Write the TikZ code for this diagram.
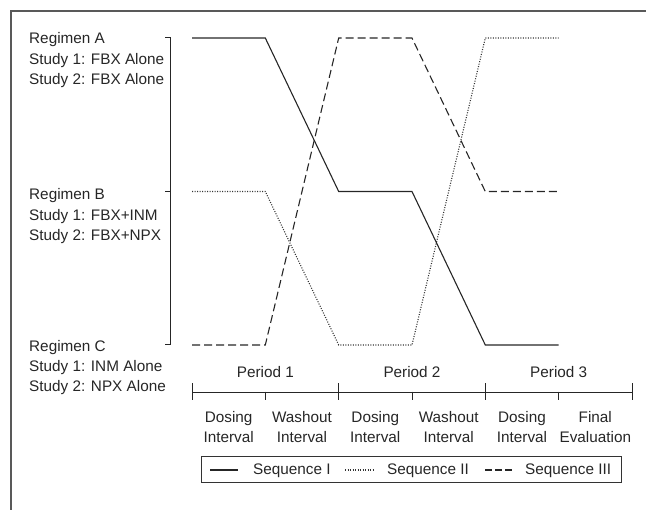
\documentclass[tikz,border=0pt]{standalone}
\usepackage{fontspec}
\setmainfont{Liberation Sans}
\begin{document}
\begin{tikzpicture}[x=1pt,y=-1pt,
  font=\fontsize{15.3}{18}\selectfont,
  txt/.style={inner sep=0pt,text=black!85,anchor=base west},
  ctxt/.style={inner sep=0pt,text=black!85,anchor=base},
  seqone/.style={line width=1.1pt,black!85},
  seqtwo/.style={line width=1.1pt,black!80,dash pattern=on 1pt off 1.5pt},
  seqthree/.style={line width=1.1pt,black!85,dash pattern=on 8pt off 4pt},
  axisline/.style={line width=1pt,black!85},
  frameline/.style={line width=1.6pt,black!65}]
\useasboundingbox (0,0) rectangle (646,510);
% frame (top and left edges)
\coordinate (F0) at (11,11);
\coordinate (F1) at (646,11);
\coordinate (F2) at (11,510);
\draw[frameline] (F1) -- (F0) -- (F2);
% regimen labels
\node[txt] (ra) at (29,44) {Regimen A};
\node[txt] (ra1) at (29,64.5) {Study 1: FBX Alone};
\node[txt] (ra2) at (29,85) {Study 2: FBX Alone};
\node[txt] (rb) at (29,200) {Regimen B};
\node[txt] (rb1) at (29,220.5) {Study 1: FBX+INM};
\node[txt] (rb2) at (29,241) {Study 2: FBX+NPX};
\node[txt] (rc) at (29,351.5) {Regimen C};
\node[txt] (rc1) at (29,371.5) {Study 1: INM Alone};
\node[txt] (rc2) at (29,391.5) {Study 2: NPX Alone};
% vertical bracket
\coordinate (VA) at (170,38);
\coordinate (VB) at (170,191.5);
\coordinate (VC) at (170,345);
\coordinate (TA) at (165,38);
\coordinate (TB) at (165,191.5);
\coordinate (TC) at (165,345);
\draw[axisline] (TA) -- (VA) -- (VC) -- (TC);
\draw[axisline] (TB) -- (VB);
% grid points for sequences
\foreach \i/\x in {0/192,1/265.3,2/338.7,3/412,4/485.3,5/558.7}{
  \coordinate (A\i) at (\x,38);
  \coordinate (B\i) at (\x,191.5);
  \coordinate (C\i) at (\x,345);
}
\draw[seqone] (A0) -- (A1) -- (B2) -- (B3) -- (C4) -- (C5);
\draw[seqtwo] (B0) -- (B1) -- (C2) -- (C3) -- (A4) -- (A5);
\draw[seqthree] (C0) -- (C1) -- (A2) -- (A3) -- (B4) -- (B5);
% time axis
\foreach \i/\x in {0/192,1/265.3,2/338.7,3/412,4/485.3,5/558.7,6/632}{
  \coordinate (X\i) at (\x,393);
  \coordinate (D\i) at (\x,400);
  \coordinate (U\i) at (\x,383.3);
  \coordinate (M\i) at (\x,391.7);
}
\draw[axisline] (X0) -- (X6);
\foreach \i in {0,2,4,6}{ \draw[axisline] (U\i) -- (D\i); }
\foreach \i in {1,3,5}{ \draw[axisline] (M\i) -- (D\i); }
\node[ctxt] (p1) at (265.3,378) {Period 1};
\node[ctxt] (p2) at (412,378) {Period 2};
\node[ctxt] (p3) at (558.7,378) {Period 3};
\node[ctxt] (i1a) at (228.7,423) {Dosing};
\node[ctxt] (i1b) at (228.7,443) {Interval};
\node[ctxt] (i2a) at (302,423) {Washout};
\node[ctxt] (i2b) at (302,443) {Interval};
\node[ctxt] (i3a) at (375.3,423) {Dosing};
\node[ctxt] (i3b) at (375.3,443) {Interval};
\node[ctxt] (i4a) at (448.7,423) {Washout};
\node[ctxt] (i4b) at (448.7,443) {Interval};
\node[ctxt] (i5a) at (522,423) {Dosing};
\node[ctxt] (i5b) at (522,443) {Interval};
\node[ctxt] (i6a) at (595.3,423) {Final};
\node[ctxt] (i6b) at (595.3,443) {Evaluation};
% legend
\coordinate (L0) at (201.7,457);
\coordinate (L1) at (621.7,483);
\draw[line width=1pt,black!80] (L0) rectangle (L1);
\coordinate (S1a) at (210,470); \coordinate (S1b) at (238,470);
\coordinate (S2a) at (345,470); \coordinate (S2b) at (373,470);
\coordinate (S3a) at (485,470); \coordinate (S3b) at (512,470);
\draw[seqone] (S1a) -- (S1b);
\draw[seqtwo] (S2a) -- (S2b);
\draw[seqthree,dash pattern=on 7pt off 3pt] (S3a) -- (S3b);
\node[txt] (l1) at (253,475) {Sequence I};
\node[txt] (l2) at (387,475) {Sequence II};
\node[txt] (l3) at (525,475) {Sequence III};
\end{tikzpicture}
\end{document}
